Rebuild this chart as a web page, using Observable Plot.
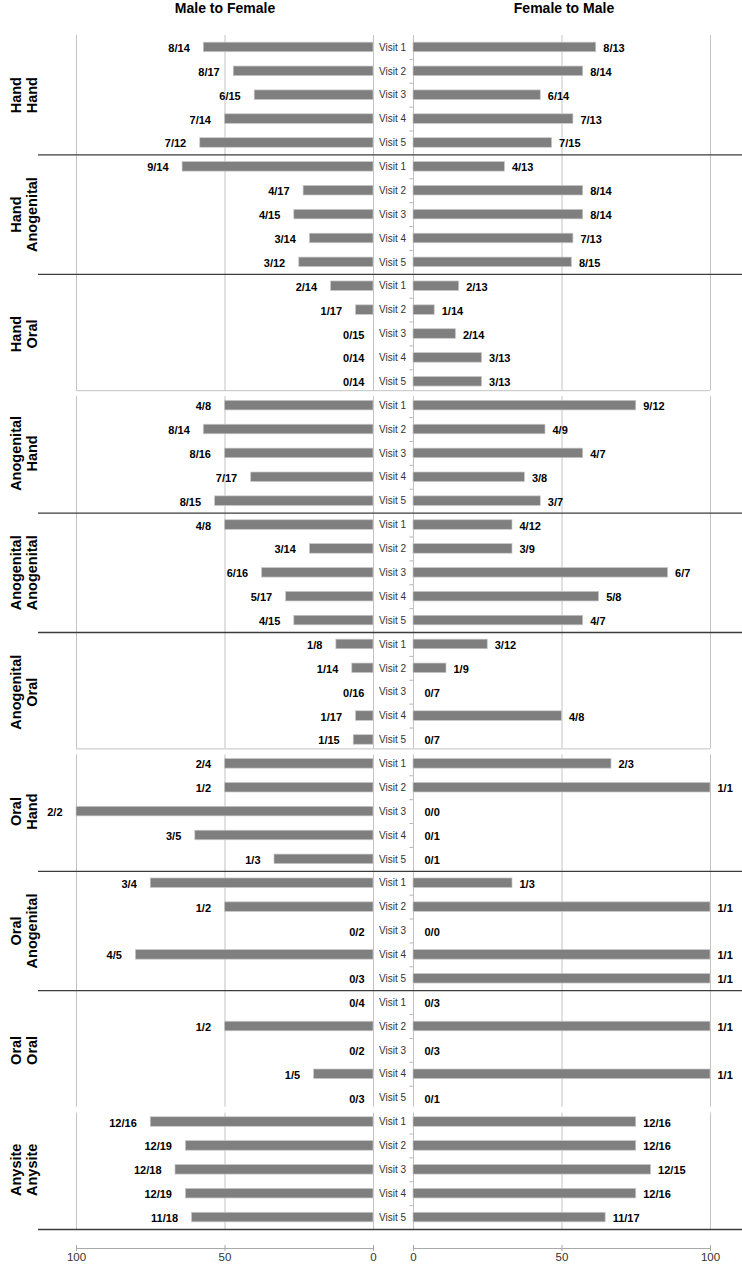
<!DOCTYPE html>
<html><head><meta charset="utf-8">
<script src="https://cdn.jsdelivr.net/npm/d3@7"></script>
<script src="https://cdn.jsdelivr.net/npm/@observablehq/plot@0.6"></script>
<style>
body{margin:0;background:#fff;font-family:"Liberation Sans",Arial,sans-serif;}
#wrap{position:relative;width:742px;}
#head{position:relative;height:22px;}
.t{position:absolute;top:0;font-weight:bold;font-size:14px;line-height:16px;transform:translateX(-50%);white-space:nowrap;color:#000;}
</style></head><body>
<div id="wrap">
<div id="head"><span class="t" style="left:225px">Male to Female</span><span class="t" style="left:564px">Female to Male</span></div>
<div id="chart"></div>
</div>
<script>
// ---- data ----
const groups = ["Hand\nHand","Hand\nAnogenital","Hand\nOral","Anogenital\nHand","Anogenital\nAnogenital","Anogenital\nOral","Oral\nHand","Oral\nAnogenital","Oral\nOral","Anysite\nAnysite"];
const visits = ["Visit 1","Visit 2","Visit 3","Visit 4","Visit 5"];
const mtfNum = [[8,8,6,7,7],[9,4,4,3,3],[2,1,0,0,0],[4,8,8,7,8],[4,3,6,5,4],[1,1,0,1,1],[2,1,2,3,1],[3,1,0,4,0],[0,1,0,1,0],[12,12,12,12,11]];
const mtfDen = [[14,17,15,14,12],[14,17,15,14,12],[14,17,15,14,14],[8,14,16,17,15],[8,14,16,17,15],[8,14,16,17,15],[4,2,2,5,3],[4,2,2,5,3],[4,2,2,5,3],[16,19,18,19,18]];
const ftmNum = [[8,8,6,7,7],[4,8,8,7,8],[2,1,2,3,3],[9,4,4,3,3],[4,3,6,5,4],[3,1,0,4,0],[2,1,0,0,0],[1,1,0,1,1],[0,1,0,1,0],[12,12,12,12,11]];
const ftmDen = [[13,14,14,13,15],[13,14,14,13,15],[13,14,14,13,13],[12,9,7,8,7],[12,9,7,8,7],[12,9,7,8,7],[3,1,0,1,1],[3,1,0,1,1],[3,1,3,1,1],[16,16,15,16,17]];
const tickValues = [100, 50, 0];
// groups after which the original figure has a dark separator / a stitched gap
const darkAfter = [0,1,3,4,6,7,9];
const lightAfter = [2,5];
const pieceEnd = [2,5,8];
const pieceStart = [3,6,9];

// ---- layout ----
const W = 742, H = 1243, mT = 13, mB = 36, mL = 76, mR = 32;
const plotW = W - mL - mR, gapPx = 40;
const G = 100 * gapPx / (plotW - gapPx);          // half gap in data units
const facetH = (H - mT - mB) / groups.length;
const step = facetH / visits.length;
const L = v => -(G + v), R = v => G + v;

const rows = [];
groups.forEach((g, gi) => visits.forEach((v, vi) => {
  const a = mtfNum[gi][vi], b = mtfDen[gi][vi];
  rows.push({group: g, gi, visit: v, side: "L", value: b ? a / b * 100 : 0, label: `${a}/${b}`});
  const c = ftmNum[gi][vi], d = ftmDen[gi][vi];
  rows.push({group: g, gi, visit: v, side: "R", value: d ? c / d * 100 : 0, label: `${c}/${d}`});
}));
const pos = r => r.side === "L" ? L(r.value) : R(r.value);
const base = r => r.side === "L" ? L(0) : R(0);

const gridX = [L(100), L(50), L(0), R(0), R(50), R(100)];
const grid = groups.flatMap((g, gi) => gridX.map(x => ({group: g, gi, x})));
const gridMark = (filter, opts) => Plot.ruleX(grid.filter(filter), {x: "x", fy: "group", stroke: "#c3c3c3", ...opts});
const visitRows = groups.flatMap(g => visits.map(v => ({group: g, visit: v})));
const groupRows = groups.map((g, gi) => ({group: g, gi}));
const last = groups[groups.length - 1];
const axisSegs = [{group: last, x1: L(100), x2: L(0)}, {group: last, x1: R(0), x2: R(100)}];
const axisTicks = [...tickValues.map(L), ...tickValues.slice().reverse().map(R)];
const axisLabels = new Map(axisTicks.map((t, i) => [t, String(i < 3 ? tickValues[i] : tickValues[2 - (i - 3)])]));

const chart = Plot.plot({
  width: W, height: H,
  marginTop: mT, marginBottom: mB, marginLeft: mL, marginRight: mR,
  style: {fontFamily: "'Liberation Sans', Arial, sans-serif", background: "#fff", overflow: "visible"},
  x: {domain: [L(100), R(100)], axis: null},
  y: {domain: visits, axis: null, paddingInner: 0.6, paddingOuter: 0.3, round: false},
  fy: {domain: groups, axis: null, padding: 0, round: false},
  marks: [
    gridMark(d => !pieceEnd.includes(d.gi) && !pieceStart.includes(d.gi), {}),
    gridMark(d => pieceEnd.includes(d.gi), {insetBottom: 3}),
    gridMark(d => pieceStart.includes(d.gi), {insetTop: 3}),
    Plot.ruleY(visitRows.filter(d => d.visit !== visits[4]), {fy: "group", y: "visit", x1: R(0) - 1.2, x2: R(0), dy: step / 2, stroke: "#b5b5b5"}),
    Plot.barX(rows.filter(r => r.value > 0), {fy: "group", y: "visit", x1: base, x2: pos, fill: "#7f7f7f", stroke: "#c8c8c8", strokeWidth: 0.7}),
    Plot.text(rows.filter(r => r.side === "L" && r.value > 0), {fy: "group", y: "visit", x: pos, text: "label", textAnchor: "end", dx: -14, dy: 1, fontSize: 11, fontWeight: "bold", fill: "#000"}),
    Plot.text(rows.filter(r => r.side === "L" && r.value === 0), {fy: "group", y: "visit", x: pos, text: "label", textAnchor: "end", dx: -9, dy: 1, fontSize: 11, fontWeight: "bold", fill: "#000"}),
    Plot.text(rows.filter(r => r.side === "R" && r.value > 0), {fy: "group", y: "visit", x: pos, text: "label", textAnchor: "start", dx: 7, dy: 1, fontSize: 11, fontWeight: "bold", fill: "#000"}),
    Plot.text(rows.filter(r => r.side === "R" && r.value === 0), {fy: "group", y: "visit", x: pos, text: "label", textAnchor: "start", dx: 11, dy: 1, fontSize: 11, fontWeight: "bold", fill: "#000"}),
    Plot.text(visitRows, {fy: "group", y: "visit", x: () => 0, text: "visit", textAnchor: "middle", dx: -1, fontSize: 10, fill: "#333"}),
    Plot.text(groupRows, {fy: "group", text: "group", frameAnchor: "left", textAnchor: "middle", lineAnchor: "middle", dx: -53, rotate: -90, fontSize: 14.5, fontWeight: "bold", lineHeight: 1.1, fill: "#000"}),
    Plot.ruleY(groupRows.filter(d => darkAfter.includes(d.gi)), {fy: "group", y: () => visits[4], dy: step / 2, stroke: "#3c3c3c", strokeWidth: 1.3, insetLeft: -38, insetRight: -mR}),
    Plot.ruleY(groupRows.filter(d => lightAfter.includes(d.gi)), {fy: "group", y: () => visits[4], dy: step / 2 - 3, stroke: "#c3c3c3"}),
    Plot.ruleY(axisSegs, {fy: "group", y: () => visits[4], x1: "x1", x2: "x2", dy: step / 2 + 19, stroke: "#a8a8a8"}),
    Plot.axisX(axisTicks, {tickSize: 6, dy: 16, tickPadding: 1, tickFormat: t => axisLabels.get(t), stroke: "#a8a8a8", fill: "#333", fontSize: 11.5})
  ]
});
document.getElementById("chart").appendChild(chart);
</script>
</body></html>
